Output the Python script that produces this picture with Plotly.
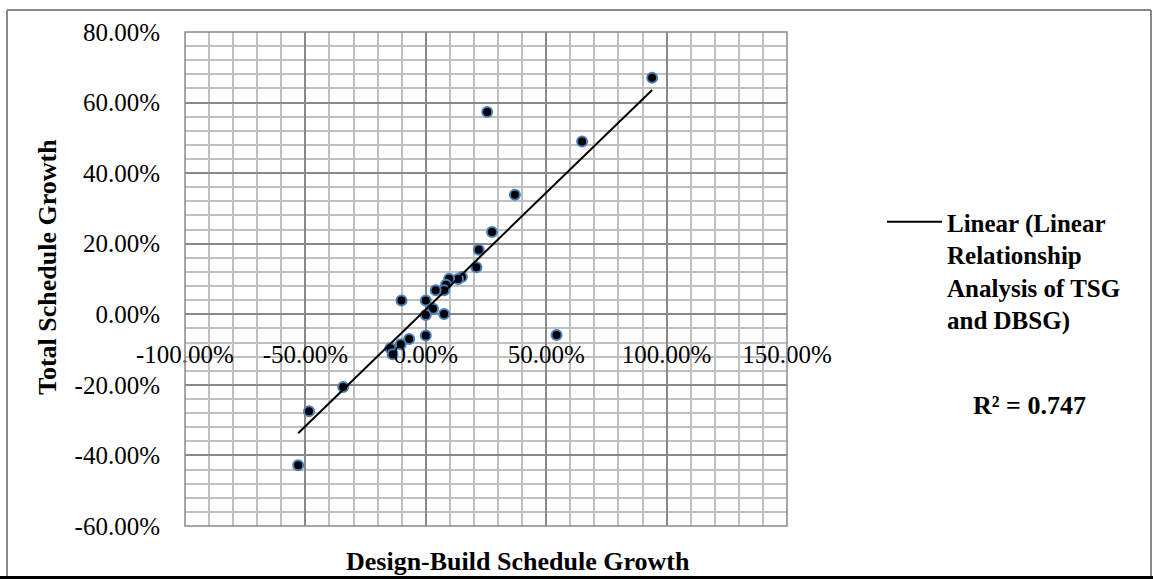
import numpy as np
import plotly.graph_objects as go

# Design-Build Schedule Growth (x, %) and Total Schedule Growth (y, %)
dbsg = [94.0, 64.9, 25.5, 37.0, 54.3, 27.5, 22.0, 21.0, 15.0, 13.4, 9.7, 8.4, 7.6, 4.1,
        0.0, -10.1, 3.0, 0.0, 7.6, 0.0, -6.9, -10.4, -14.7, -13.8, -34.3, -48.5, -53.0]
tsg = [67.0, 49.0, 57.3, 33.9, -5.9, 23.3, 18.3, 13.3, 10.6, 10.0, 10.1, 8.4, 6.8, 6.8,
       3.9, 3.9, 1.6, -0.2, 0.1, -6.0, -7.0, -8.5, -9.6, -11.3, -20.6, -27.5, -42.8]

x_tickvals = [-100, -50, 0, 50, 100, 150]
x_ticktext = ["-100.00%", "-50.00%", "0.00%", "50.00%", "100.00%", "150.00%"]
y_tickvals = [-60, -40, -20, 0, 20, 40, 60, 80]
y_ticktext = ["-60.00%", "-40.00%", "-20.00%", "0.00%", "20.00%", "40.00%", "60.00%", "80.00%"]

trend_name = "<b>Linear (Linear<br>Relationship<br>Analysis of TSG<br>and DBSG)</b>"
r2_text = "<b>R² = 0.747</b>"
x_title = "<b>Design-Build Schedule Growth</b>"
y_title = "<b>Total Schedule Growth</b>"

slope, intercept = np.polyfit(dbsg, tsg, 1)
x_line = [min(dbsg), max(dbsg)]
y_line = [slope * v + intercept for v in x_line]

W, H = 1153, 579
L, R, T, B = 185, 366, 32, 53
pw, ph = W - L - R, H - T - B

def px_x(p):
    return (p - L) / pw

def px_y(p):
    return (H - B - p) / ph

fig = go.Figure()
fig.add_trace(go.Scatter(
    x=dbsg, y=tsg, mode="markers", showlegend=False,
    marker=dict(size=10, color="black", line=dict(color="#4a7ebb", width=2)),
))
fig.add_trace(go.Scatter(
    x=x_line, y=y_line, mode="lines", name=trend_name,
    line=dict(color="black", width=2),
))

serif = "Liberation Serif"
major_c = "#898989"
minor_c = "#c0c0c0"

fig.update_layout(
    width=W, height=H,
    margin=dict(l=L, r=R, t=T, b=B, autoexpand=False),
    paper_bgcolor="white", plot_bgcolor="white",
    font=dict(family=serif, size=25, color="black"),
    showlegend=True,
    legend=dict(
        x=px_x(882), y=px_y(199), xanchor="left", yanchor="top",
        font=dict(family=serif, size=25, color="black"),
        valign="top", bgcolor="rgba(0,0,0,0)", itemwidth=55,
    ),
    xaxis=dict(
        range=[-100, 150], tickvals=x_tickvals, ticktext=x_ticktext,
        anchor="free", position=60 / 140,
        showgrid=True, gridcolor=major_c, gridwidth=1.5,
        minor=dict(dtick=10, tick0=0, showgrid=True, gridcolor=minor_c, gridwidth=1.5),
        zeroline=False, showline=False, ticks="",
        ticklabelstandoff=23,
        tickfont=dict(family=serif, size=25, color="black"),
    ),
    yaxis=dict(
        range=[-60, 80], tickvals=y_tickvals, ticktext=y_ticktext,
        showgrid=True, gridcolor=major_c, gridwidth=1.5,
        minor=dict(dtick=4, tick0=0, showgrid=True, gridcolor=minor_c, gridwidth=1.5),
        zeroline=False, showline=False, ticks="",
        ticklabelstandoff=24,
        tickfont=dict(family=serif, size=25, color="black"),
    ),
    annotations=[
        dict(text=y_title, x=px_x(47), y=px_y(267), xref="paper", yref="paper",
             textangle=-90, showarrow=False, xanchor="center", yanchor="middle",
             font=dict(family=serif, size=26, color="black")),
        dict(text=x_title, x=px_x(518), y=px_y(561), xref="paper", yref="paper",
             showarrow=False, xanchor="center", yanchor="middle",
             font=dict(family=serif, size=26, color="black")),
        dict(text=r2_text, x=px_x(1029), y=px_y(405), xref="paper", yref="paper",
             showarrow=False, xanchor="center", yanchor="middle",
             font=dict(family=serif, size=26, color="black")),
    ],
    shapes=[
        dict(type="rect", xref="paper", yref="paper", x0=0, y0=0, x1=1, y1=1,
             line=dict(color=major_c, width=1.5), layer="above"),
        dict(type="line", xref="paper", yref="paper", x0=px_x(7), x1=px_x(1151),
             y0=px_y(10), y1=px_y(10), line=dict(color="#8a8a8a", width=2)),
        dict(type="line", xref="paper", yref="paper", x0=px_x(7), x1=px_x(7),
             y0=px_y(10), y1=px_y(578), line=dict(color="#8a8a8a", width=2)),
        dict(type="line", xref="paper", yref="paper", x0=px_x(1151), x1=px_x(1151),
             y0=px_y(10), y1=px_y(578), line=dict(color="#8a8a8a", width=2)),
        dict(type="line", xref="paper", yref="paper", x0=px_x(0), x1=px_x(1153),
             y0=px_y(577.5), y1=px_y(577.5), line=dict(color="black", width=3)),
    ],
)

fig.write_html(
    "out.html",
    config={"displayModeBar": False},
    post_script="document.body.style.margin='0';document.body.style.overflow='hidden';",
)
